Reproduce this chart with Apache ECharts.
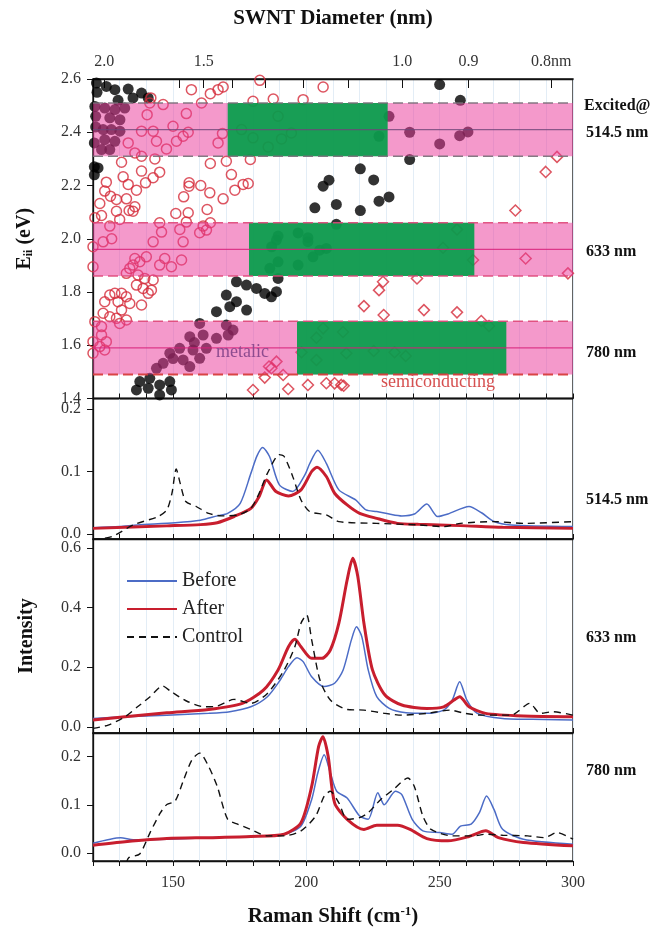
<!DOCTYPE html>
<html>
<head>
<meta charset="utf-8">
<script src="https://cdn.jsdelivr.net/npm/echarts@6/dist/echarts.min.js"></script>
<style>
html, body { margin: 0; background: #fff; }
#chart { width: 657px; height: 928px; }
</style>
</head>
<body>
<div id="chart"></div>
<script>
// Kataura plot: laser lines and resonance windows
const laserEnergy = [2.41, 1.96, 1.59]
const laserNames = ['514.5 nm', '633 nm', '780 nm']
const greenFrom = [170.5, 178.5, 196.5]
const greenTo = [230.5, 263, 275]
const bandHalf = 0.1

// SWNT diameter axis (nm) -> RBM shift = 223.5/d + 12.5
const diamTicks = [2.0, 1.6, 1.5, 1.4, 1.3, 1.2, 1.1, 1.0, 0.9, 0.8]
const diamLabels = [2.0, 1.5, 1.0, 0.9, 0.8]

// metallic tubes (filled)
const metallicPts = [
    [121.3, 2.585], [125.0, 2.572], [128.2, 2.56], [133.2, 2.562], [138.2, 2.547], [135, 2.529], [140.7, 2.529], [129.4, 2.52], [121.5, 2.55], [120.7, 2.497],
    [124.4, 2.491], [128.2, 2.485], [131.9, 2.491], [126.3, 2.454], [130.1, 2.447], [123.8, 2.41], [126.9, 2.41], [130.1, 2.404], [124.4, 2.372], [128.2, 2.366], [123.2, 2.335], [126.3, 2.335], [121, 2.46], [121, 2.42],
    [120.5, 2.36], [120.5, 2.27], [121.9, 2.266], [120.5, 2.24],
    [250, 2.579], [257.75, 2.52], [231, 2.46], [227.25, 2.385], [238.75, 2.40], [250, 2.356], [257.5, 2.387], [260.6, 2.401], [238.75, 2.2975],
    [220.25, 2.2625], [225.25, 2.221], [208.5, 2.22], [206.3, 2.1975], [203.2, 2.116], [211.25, 2.129], [220.25, 2.106], [227.25, 2.141], [231, 2.157], [211.25, 2.054],
    [189.4, 2.01], [196.9, 2.022], [200.6, 2.004], [187, 1.97], [188.8, 1.995], [189.4, 1.9135], [196.9, 1.901], [200.6, 1.989], [205, 1.957], [207.5, 1.9635], [202.5, 1.932], [186.3, 1.889],
    [173.8, 1.8385], [177.55, 1.826], [181.3, 1.8135], [184.4, 1.7945], [189.4, 1.851], [188.8, 1.801], [186.9, 1.782], [170, 1.7885], [171.3, 1.745], [166.3, 1.726], [177.6, 1.732], [173.8, 1.7635],
    [160, 1.682], [156.3, 1.632], [161.3, 1.6385], [162.5, 1.5885], [170, 1.676], [172.5, 1.657], [170.7, 1.6385], [166.3, 1.626], [152.5, 1.5885], [148.8, 1.57], [153.8, 1.545], [160, 1.551], [146.3, 1.532], [143.8, 1.5135], [156.3, 1.52], [157.5, 1.582], [150, 1.55], [158, 1.61],
    [137.55, 1.4635], [136.3, 1.432], [140.7, 1.4385], [145, 1.4135], [145, 1.451], [148.8, 1.4635], [149.4, 1.432], [141.3, 1.476]
]

// semiconducting tubes (open circles)
const semiCircles = [
    [156.9, 2.56], [164, 2.545], [166.9, 2.56], [168.8, 2.57], [182.55, 2.595], [206.3, 2.57], [180, 2.516], [187.6, 2.525], [198.8, 2.5225], [160.7, 2.51],
    [141.7, 2.529], [141.3, 2.51], [146.3, 2.504], [155, 2.47], [140.3, 2.466], [150, 2.4225], [138.2, 2.404], [142.55, 2.404], [153.8, 2.385], [155.7, 2.4],
    [143.8, 2.366], [151.3, 2.366], [147.55, 2.3375], [133.2, 2.36], [135.7, 2.3225], [138.2, 2.31], [143.2, 2.3], [130.7, 2.2875], [166.9, 2.36], [168.55, 2.395],
    [164, 2.2825], [170, 2.291], [179, 2.2975], [171.9, 2.241], [178.2, 2.2075], [176.3, 2.204], [173.2, 2.1825], [168.8, 2.15], [163.8, 2.1725], [160.4, 2.2],
    [156.05, 2.21], [156, 2.1975], [154, 2.1575], [155.7, 2.0975], [151.05, 2.095], [162.8, 2.11], [164, 2.06], [161.3, 2.0475], [138.2, 2.254], [142.55, 2.229],
    [145, 2.25], [139.7, 2.21], [136.3, 2.1825], [133.2, 2.204], [131.3, 2.2325], [125, 2.2125], [124.4, 2.179], [126.55, 2.16], [128.8, 2.1475], [132.55, 2.15],
    [122.55, 2.1325], [128.8, 2.1035], [133.55, 2.106], [135.7, 2.12], [135, 2.1035], [123.2, 2.0875], [120.7, 2.079], [130, 2.0725], [126.3, 2.0475], [145, 2.06],
    [145.7, 2.025], [155, 2.0625], [152.55, 2.035], [160, 2.0225], [162.55, 2.0325],
    [189.4, 2.46], [175.7, 2.41], [180, 2.379], [185.7, 2.345], [190.7, 2.375], [194.4, 2.397],
    [120, 1.97], [120, 1.895], [123.8, 1.9885], [127, 2.0], [135.7, 1.926], [137.55, 1.9135], [140, 1.932], [142.55, 1.9885], [146.9, 1.926], [145, 1.901],
    [149.4, 1.895], [153.2, 1.92], [153.8, 1.9885], [135, 1.901], [133.8, 1.8885], [132.5, 1.87], [136.9, 1.8635], [139.4, 1.851], [136.3, 1.826], [138.8, 1.8135],
    [141.9, 1.807], [142.55, 1.845], [140.7, 1.795], [126.3, 1.7885], [128.2, 1.795], [130.7, 1.795], [124.4, 1.7635], [129.4, 1.7635], [132.5, 1.782], [133.8, 1.757],
    [138.2, 1.751], [130.7, 1.732], [123.8, 1.72], [126.3, 1.707], [128.8, 1.701], [132.55, 1.695], [120.7, 1.6885], [123.2, 1.67], [130, 1.682], [123.2, 1.6385],
    [120, 1.6135], [122.55, 1.595], [125, 1.6135], [120, 1.57], [124.4, 1.582]
]

// semiconducting tubes (open diamonds)
const semiDiamonds = [
    [180, 1.432], [184.4, 1.4785], [186.9, 1.5135], [188.8, 1.5385], [186, 1.52], [191.3, 1.4885], [193.2, 1.436], [200.6, 1.451], [207.5, 1.4575],
    [206.3, 1.6635], [203.8, 1.6285], [198.2, 1.5735], [203.8, 1.5445], [213.75, 1.65], [215, 1.57], [225.25, 1.5785], [233.1, 1.5735], [237.25, 1.5595],
    [251.25, 1.966], [262.5, 1.92], [282.25, 1.926], [298.1, 1.87], [228.75, 1.8385], [227.25, 1.807], [241.5, 1.851], [221.6, 1.747], [244.1, 1.732],
    [229, 1.7135], [256.5, 1.7235], [265.6, 1.691], [268.5, 1.672], [210.6, 1.457], [213.1, 1.451], [214, 1.448],
    [294, 2.3075], [289.75, 2.251], [278.4, 2.106], [256.5, 2.035]
]

// Raman spectra [shift, intensity]
const before514 = [[120, 0.010], [130, 0.012], [136.7, 0.0145], [150.8, 0.018], [160.3, 0.022], [166.6, 0.029], [170.5, 0.033], [175.2, 0.049], [179.2, 0.097], [181.5, 0.125], [183.6, 0.1385], [186.2, 0.124], [189.9, 0.0786], [194.9, 0.068], [199.5, 0.095], [201.2, 0.112], [204.3, 0.134], [207.5, 0.113], [212.2, 0.0706], [218.5, 0.0545], [222.4, 0.0385], [226.4, 0.036], [231.1, 0.032], [235.8, 0.029], [240.5, 0.032], [245.2, 0.048], [249.2, 0.028], [253.1, 0.032], [261, 0.044], [265.7, 0.034], [270.4, 0.020], [276.7, 0.0145], [300, 0.012]]
const after514 = [[120, 0.009], [147.7, 0.013], [160.3, 0.015], [166.6, 0.018], [172.9, 0.028], [179.2, 0.041], [182.3, 0.06], [185.1, 0.0866], [188.6, 0.068], [193.3, 0.061], [198, 0.0706], [202, 0.1], [204, 0.107], [207.5, 0.092], [210.6, 0.0652], [215.3, 0.0465], [220, 0.033], [226.4, 0.025], [234.2, 0.017], [242, 0.0155], [257.8, 0.0134], [273.6, 0.0107], [300, 0.009]]
const control514 = [[120, -0.0096], [127.2, -0.004], [135.1, 0.0145], [144.5, 0.028], [147.7, 0.0385], [149.6, 0.065], [151.2, 0.104], [152.7, 0.081], [154.8, 0.052], [158.7, 0.044], [163.4, 0.033], [168.1, 0.029], [174.4, 0.0305], [179.2, 0.041], [182.3, 0.065], [185.4, 0.097], [189.9, 0.127], [191.7, 0.124], [194.9, 0.092], [198, 0.0545], [201.2, 0.036], [207.5, 0.0305], [212.2, 0.0198], [226.4, 0.017], [242, 0.0145], [251.5, 0.0118], [257.8, 0.017], [270.4, 0.0198], [281.4, 0.017], [300, 0.0198]]

const before633 = [[120, 0.028], [132, 0.0336], [147.7, 0.039], [163.4, 0.045], [171.3, 0.0505], [179.2, 0.067], [185.4, 0.101], [190.2, 0.157], [193.3, 0.202], [196.5, 0.232], [198.8, 0.219], [202, 0.168], [206.7, 0.135], [210.6, 0.146], [213.8, 0.191], [216.9, 0.292], [218.8, 0.336], [220.8, 0.303], [223.2, 0.191], [226.4, 0.101], [231.1, 0.0617], [237.4, 0.047], [245.2, 0.045], [251.5, 0.056], [254.7, 0.0897], [257.5, 0.151], [260.2, 0.0897], [264.1, 0.045], [273.6, 0.028], [289.3, 0.0247], [300, 0.0224]]
const after633 = [[120, 0.0224], [132, 0.0336], [147.7, 0.047], [163.4, 0.058], [176, 0.0785], [183.9, 0.123], [189.4, 0.191], [193.3, 0.269], [195.7, 0.294], [198, 0.269], [202, 0.23], [205.9, 0.23], [209, 0.258], [212.2, 0.348], [215.3, 0.493], [217.4, 0.566], [219.3, 0.505], [221.6, 0.348], [224.8, 0.191], [229.5, 0.1065], [235.8, 0.073], [245.2, 0.0617], [251.5, 0.067], [255.4, 0.0897], [257.5, 0.101], [261, 0.067], [267.2, 0.045], [281.4, 0.036], [300, 0.0336]]
const control633 = [[120, -0.0056], [125.7, 0.0056], [132, 0.0336], [136.7, 0.067], [141.4, 0.101], [146.1, 0.137], [149.3, 0.118], [155.6, 0.084], [161.9, 0.067], [166.6, 0.0695], [172.9, 0.092], [179.2, 0.0785], [185.4, 0.112], [191.7, 0.191], [195.7, 0.269], [198, 0.348], [200.1, 0.376], [202, 0.292], [205.1, 0.157], [209, 0.0897], [215.3, 0.058], [221.6, 0.056], [229.5, 0.045], [235.8, 0.039], [245.2, 0.045], [253.9, 0.056], [259.4, 0.045], [265.7, 0.039], [276.7, 0.039], [283.8, 0.0785], [287.7, 0.045], [292.4, 0.0505], [300, 0.039]]

const before780 = [[120, 0.0205], [130.4, 0.032], [135.1, 0.0274], [147.7, 0.0288], [163.4, 0.032], [179.2, 0.0342], [191.7, 0.039], [198, 0.056], [202, 0.111], [204.3, 0.166], [206.7, 0.2034], [209, 0.166], [211.4, 0.128], [215.3, 0.114], [220, 0.0767], [223.2, 0.07], [226.8, 0.125], [229.2, 0.1], [233.4, 0.128], [235.8, 0.121], [239.7, 0.07], [243.7, 0.046], [250, 0.0425], [254.7, 0.039], [257.8, 0.056], [261.8, 0.06], [264.9, 0.0836], [267.6, 0.118], [270.4, 0.09], [273.6, 0.0493], [281.4, 0.0288], [300, 0.0185]]
const after780 = [[120, 0.0164], [132, 0.0233], [147.7, 0.030], [163.4, 0.032], [179.2, 0.0342], [191.7, 0.039], [198, 0.063], [202, 0.138], [204.6, 0.2205], [206.2, 0.241], [208.2, 0.2], [210.6, 0.104], [215.3, 0.07], [221.6, 0.049], [226.4, 0.0575], [234.2, 0.0575], [238.9, 0.049], [245.2, 0.030], [253.1, 0.0253], [261, 0.0342], [267.3, 0.046], [272, 0.032], [281.4, 0.022], [300, 0.015]]
const control780 = [[132.5, -0.02], [133.5, -0.009], [137.5, -0.002], [141.4, 0.0425], [145.3, 0.0836], [147.7, 0.1007], [150.8, 0.1075], [154, 0.152], [157.1, 0.193], [160, 0.207], [163.4, 0.179], [166.6, 0.138], [170.5, 0.07], [174.4, 0.0596], [179.2, 0.049], [185.4, 0.0356], [191.7, 0.0356], [198, 0.046], [203.5, 0.0767], [206.7, 0.118], [209, 0.128], [212.2, 0.104], [215.3, 0.07], [220, 0.0733], [223.2, 0.0836], [227.9, 0.111], [232.6, 0.1315], [238.1, 0.1555], [240.5, 0.138], [243.7, 0.0767], [246.8, 0.049], [254.7, 0.0356], [262.6, 0.0356], [267.3, 0.039], [273.6, 0.037], [283, 0.0356], [289.3, 0.032], [294, 0.0425], [300, 0.0288]]

const FONT = "'Liberation Serif', 'DejaVu Serif', serif"
const chart = echarts.init(document.getElementById('chart'))

const gridBoxes = [
    { top: 79, height: 319.5 },
    { top: 398.5, height: 140.5 },
    { top: 539, height: 194 },
    { top: 733, height: 129 }
]

const bottomAxis = (gridIndex, last) => ({
    type: 'value',
    gridIndex,
    min: 120,
    max: 300,
    interval: 10,
    position: 'bottom',
    axisLine: { show: true, onZero: false, lineStyle: { color: '#111', width: 1.3 } },
    axisTick: { show: true, inside: !last, length: 5, lineStyle: { color: '#111' } },
    axisLabel: {
        show: last,
        interval: 0,
        margin: 14,
        fontFamily: FONT,
        fontSize: 16,
        color: '#333',
        formatter: v => (v % 50 === 0 ? String(v) : '')
    },
    splitLine: { show: true, lineStyle: { color: '#e3edf6', width: 1 } },
    name: last ? 'Raman Shift (cm{sup|-1})' : '',
    nameLocation: 'middle',
    nameGap: 44,
    nameTextStyle: {
        fontFamily: FONT,
        fontSize: 21,
        fontWeight: 'bold',
        color: '#111',
        rich: { sup: { fontFamily: FONT, fontSize: 13, fontWeight: 'bold', verticalAlign: 'top', padding: [0, 0, 10, 0] } }
    }
})

const spectrumY = (gridIndex, min, max, labels, name) => ({
    type: 'value',
    gridIndex,
    min,
    max,
    axisLine: { show: true, onZero: false, lineStyle: { color: '#111', width: 1.3 } },
    axisTick: { show: true, inside: false, length: 6, customValues: labels, lineStyle: { color: '#111' } },
    axisLabel: { customValues: labels, margin: 12, fontFamily: FONT, fontSize: 16, color: '#333', formatter: v => v.toFixed(1) },
    splitLine: { show: false },
    name,
    nameLocation: 'middle',
    nameGap: 56,
    nameTextStyle: { fontFamily: FONT, fontSize: 20, fontWeight: 'bold', color: '#111' }
})

const lineSeries = (name, data, idx, color, width, type) => ({
    name,
    type: 'line',
    xAxisIndex: idx,
    yAxisIndex: idx,
    data,
    symbol: 'none',
    smooth: 0.25,
    clip: true,
    lineStyle: { color, width, type },
    itemStyle: { color },
    z: name === 'Control' ? 5 : name === 'After' ? 4 : 3
})

const renderBand = (params, api) => {
    const e = api.value(0)
    const tl = api.coord([120, e + bandHalf])
    const br = api.coord([300, e - bandHalf])
    const gl = api.coord([api.value(1), e + bandHalf])
    const gr = api.coord([api.value(2), e - bandHalf])
    const ml = api.coord([120, e])
    const mr = api.coord([300, e])
    const edge = params.dataIndex === 0 ? 'rgba(120,110,120,0.9)' : 'rgba(222,70,120,0.9)'
    return {
        type: 'group',
        children: [
            { type: 'rect', shape: { x: tl[0], y: tl[1], width: br[0] - tl[0], height: br[1] - tl[1] }, style: { fill: 'rgba(234,60,155,0.52)' } },
            { type: 'rect', shape: { x: gl[0], y: gl[1], width: gr[0] - gl[0], height: gr[1] - gl[1] }, style: { fill: 'rgba(0,158,72,0.9)' } },
            { type: 'line', shape: { x1: ml[0], y1: ml[1], x2: mr[0], y2: mr[1] }, style: { stroke: params.dataIndex === 0 ? 'rgba(110,70,120,0.8)' : 'rgba(215,30,120,0.8)', lineWidth: 1.2 } },
            { type: 'line', shape: { x1: tl[0], y1: tl[1], x2: br[0], y2: tl[1] }, style: { stroke: edge, lineWidth: 1.5, lineDash: [10, 5] } },
            { type: 'line', shape: { x1: tl[0], y1: br[1], x2: br[0], y2: br[1] }, style: { stroke: params.dataIndex === 2 ? 'rgba(215,60,60,0.95)' : edge, lineWidth: params.dataIndex === 2 ? 2 : 1.5, lineDash: [10, 5] } }
        ]
    }
}

const labelText = (x, y, text, size, weight, color) => ({
    type: 'text',
    x,
    y,
    z: 100,
    style: { text, fill: color || '#111', font: `${weight || 'bold'} ${size}px ${FONT}`, verticalAlign: 'middle' }
})

chart.setOption({
    animation: false,
    backgroundColor: '#fff',
    grid: gridBoxes.map(g => ({
        left: 93,
        right: 84,
        top: g.top,
        height: g.height,
        show: true,
        borderColor: '#111',
        borderWidth: 1.3,
        backgroundColor: 'transparent'
    })),
    legend: {
        data: ['Before', 'After', 'Control'],
        orient: 'vertical',
        left: 121,
        top: 566,
        itemWidth: 50,
        itemHeight: 14,
        itemGap: 8,
        itemStyle: { opacity: 0 },
        textStyle: { fontFamily: FONT, fontSize: 20, color: '#222' }
    },
    xAxis: [
        bottomAxis(0, false),
        bottomAxis(1, false),
        bottomAxis(2, false),
        bottomAxis(3, true),
        {
            type: 'value',
            gridIndex: 0,
            position: 'top',
            min: 120,
            max: 300,
            axisLine: { show: true, lineStyle: { color: '#111', width: 1.3 } },
            axisTick: { show: true, inside: true, length: 9, customValues: diamTicks.map(d => 223.5 / d + 12.5), lineStyle: { color: '#111' } },
            axisLabel: {
                customValues: diamLabels.map(d => 223.5 / d + 12.5),
                margin: 9,
                fontFamily: FONT,
                fontSize: 16,
                color: '#333',
                formatter: v => {
                    const d = 223.5 / (v - 12.5)
                    return d.toFixed(1) + (d < 0.85 ? 'nm' : '')
                }
            },
            splitLine: { show: false },
            name: 'SWNT Diameter (nm)',
            nameLocation: 'middle',
            nameGap: 50,
            nameTextStyle: { fontFamily: FONT, fontSize: 21, fontWeight: 'bold', color: '#111' }
        }
    ],
    yAxis: [
        {
            type: 'value',
            gridIndex: 0,
            min: 1.4,
            max: 2.6,
            interval: 0.2,
            axisLine: { show: true, lineStyle: { color: '#111', width: 1.3 } },
            axisTick: { show: true, inside: false, length: 6, lineStyle: { color: '#111' } },
            axisLabel: { margin: 12, fontFamily: FONT, fontSize: 16, color: '#333', formatter: v => v.toFixed(1) },
            splitLine: { show: false },
            name: 'E{sub|ii} (eV)',
            nameLocation: 'middle',
            nameGap: 58,
            nameTextStyle: {
                fontFamily: FONT,
                fontSize: 20,
                fontWeight: 'bold',
                color: '#111',
                rich: { sub: { fontFamily: FONT, fontSize: 12, fontWeight: 'bold', verticalAlign: 'bottom', padding: [8, 0, 0, 0] } }
            }
        },
        spectrumY(1, -0.008, 0.2168, [0, 0.1, 0.2], ''),
        spectrumY(2, -0.021, 0.631, [0, 0.2, 0.4, 0.6], 'Intensity'),
        spectrumY(3, -0.0164, 0.2487, [0, 0.1, 0.2], '')
    ],
    graphic: [
        labelText(584, 106, 'Excited@', 16),
        labelText(586, 133, laserNames[0], 16),
        labelText(586, 252, laserNames[1], 16),
        labelText(586, 353, laserNames[2], 16),
        labelText(586, 500, laserNames[0], 16),
        labelText(586, 638, laserNames[1], 16),
        labelText(586, 771, laserNames[2], 16),
        labelText(216, 352, 'metalic', 18, 'normal', '#8d4b8f'),
        labelText(381, 382, 'semiconducting', 18, 'normal', '#d65050')
    ],
    series: [
        {
            name: 'metallic',
            type: 'scatter',
            xAxisIndex: 0,
            yAxisIndex: 0,
            data: metallicPts,
            symbol: 'circle',
            symbolSize: 11,
            itemStyle: { color: '#000' },
            z: 2
        },
        {
            name: 'semiconducting',
            type: 'scatter',
            xAxisIndex: 0,
            yAxisIndex: 0,
            data: semiCircles,
            symbol: 'circle',
            symbolSize: 10,
            itemStyle: { color: 'rgba(0,0,0,0)', borderColor: '#d42a3a', borderWidth: 1.5 },
            z: 2
        },
        {
            name: 'semiconducting zigzag',
            type: 'scatter',
            xAxisIndex: 0,
            yAxisIndex: 0,
            data: semiDiamonds,
            symbol: 'diamond',
            symbolSize: 11,
            itemStyle: { color: 'rgba(0,0,0,0)', borderColor: '#d42a3a', borderWidth: 1.5 },
            z: 2
        },
        {
            name: 'windows',
            type: 'custom',
            xAxisIndex: 0,
            yAxisIndex: 0,
            data: laserEnergy.map((e, i) => [e, greenFrom[i], greenTo[i]]),
            encode: { x: 1, y: 0 },
            renderItem: renderBand,
            silent: true,
            z: 3
        },
        lineSeries('Before', before514, 1, '#4c6cc6', 1.5, 'solid'),
        lineSeries('After', after514, 1, '#c81e2e', 3, 'solid'),
        lineSeries('Control', control514, 1, '#111', 1.4, [7, 5]),
        lineSeries('Before', before633, 2, '#4c6cc6', 1.5, 'solid'),
        lineSeries('After', after633, 2, '#c81e2e', 3, 'solid'),
        lineSeries('Control', control633, 2, '#111', 1.4, [7, 5]),
        lineSeries('Before', before780, 3, '#4c6cc6', 1.5, 'solid'),
        lineSeries('After', after780, 3, '#c81e2e', 3, 'solid'),
        lineSeries('Control', control780, 3, '#111', 1.4, [7, 5])
    ]
})

window.addEventListener('resize', () => {
    chart.resize()
})
</script>
</body>
</html>
